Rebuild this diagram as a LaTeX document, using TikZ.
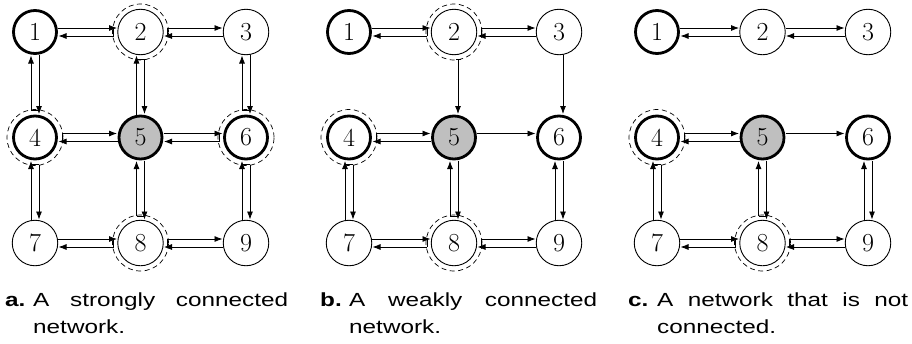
\documentclass[tikz,border=0pt]{standalone}
\usepackage{fontspec}
\newfontfamily\capfont[FakeStretch=1.28]{Liberation Sans}
\usetikzlibrary{calc,arrows.meta}

\tikzset{
  vtx/.style={circle, draw, line width=0.9pt, minimum size=45.5pt, inner sep=0pt,
              font=\fontsize{26}{26}\selectfont},
  hub/.style={vtx, line width=2.8pt, minimum size=43pt},
  core/.style={hub, fill=black!25},
  halo/.style={dash pattern=on 5pt off 3.5pt, line width=0.7pt},
  link/.style={line width=0.8pt, -{Latex[length=8pt,width=6pt]}},
  crossbar/.style={line width=0.8pt},
  captxt/.style={inner sep=0pt, anchor=base west, font=\capfont\fontsize{19}{23}\selectfont}
}

% arrow from #1 to #2, shifted 4pt to the left of its direction
\newcommand\plainlink[2]{%
  \path ($(#1)!4pt!90:(#2)$) coordinate (s) ($(#2)!4pt!-90:(#1)$) coordinate (t);
  \draw[link] ($(s)!23pt!(t)$) -- ($(t)!23.5pt!(s)$);}
% same, leaving a node with a dashed halo: starts at the halo, with a small cross bar
\newcommand\ringlink[2]{%
  \path ($(#1)!4pt!90:(#2)$) coordinate (s) ($(#2)!4pt!-90:(#1)$) coordinate (t)
        ($(s)!27pt!(t)$) coordinate (u);
  \draw[link] (u) -- ($(t)!23.5pt!(s)$);
  \draw[crossbar] (u) -- ($(u)!8pt!-90:(t)$);}
\newcommand\ringsingle[2]{%
  \path ($(#1)!4pt!90:(#2)$) coordinate (s) ($(#2)!4pt!-90:(#1)$) coordinate (t)
        ($(s)!27pt!(t)$) coordinate (u);
  \draw[link] (u) -- ($(t)!23.5pt!(s)$);
  \draw[crossbar] ($(u)!2.5pt!90:(t)$) -- ($(u)!2.5pt!-90:(t)$);}

\begin{document}
\begin{tikzpicture}[x=1pt,y=-1pt]
\useasboundingbox (0,0) rectangle (912,343);

% ---- (a) strongly connected ----
\node[hub]  (a1) at (35,32)     {1};
\node[vtx]  (a2) at (140.5,32)  {2};
\node[vtx]  (a3) at (246,32)    {3};
\node[hub]  (a4) at (35,137.5)  {4};
\node[core] (a5) at (140.5,137.5) {5};
\node[hub]  (a6) at (246,137.5) {6};
\node[vtx]  (a7) at (35,243)    {7};
\node[vtx]  (a8) at (140.5,243) {8};
\node[vtx]  (a9) at (246,243)   {9};
\foreach \n in {a2,a4,a6,a8} \draw[halo] (\n) circle[radius=28pt];

\plainlink{a1}{a2} \ringlink{a2}{a1}
\ringlink{a2}{a3}  \plainlink{a3}{a2}
\plainlink{a1}{a4} \ringlink{a4}{a1}
\ringlink{a2}{a5}  \plainlink{a5}{a2}
\plainlink{a3}{a6} \ringlink{a6}{a3}
\ringlink{a4}{a5}  \plainlink{a5}{a4}
\plainlink{a5}{a6} \ringlink{a6}{a5}
\ringlink{a4}{a7}  \plainlink{a7}{a4}
\plainlink{a5}{a8} \ringlink{a8}{a5}
\ringlink{a6}{a9}  \plainlink{a9}{a6}
\plainlink{a7}{a8} \ringlink{a8}{a7}
\ringlink{a8}{a9}  \plainlink{a9}{a8}

% ---- (b) weakly connected ----
\node[hub]  (b1) at (349,32)    {1};
\node[vtx]  (b2) at (454,32)    {2};
\node[vtx]  (b3) at (559,32)    {3};
\node[hub]  (b4) at (349,137.5) {4};
\node[core] (b5) at (454,137.5) {5};
\node[hub]  (b6) at (559,137.5) {6};
\node[vtx]  (b7) at (349,243)   {7};
\node[vtx]  (b8) at (454,243)   {8};
\node[vtx]  (b9) at (559,243)   {9};
\foreach \n in {b2,b4,b8} \draw[halo] (\n) circle[radius=28pt];

\plainlink{b1}{b2} \ringlink{b2}{b1}
\ringlink{b2}{b3}  \plainlink{b3}{b2}
\ringsingle{b2}{b5}
\plainlink{b3}{b6}
\ringlink{b4}{b5}  \plainlink{b5}{b4}
\plainlink{b5}{b6}
\ringlink{b4}{b7}  \plainlink{b7}{b4}
\plainlink{b5}{b8} \ringlink{b8}{b5}
\plainlink{b6}{b9} \plainlink{b9}{b6}
\plainlink{b7}{b8} \ringlink{b8}{b7}
\ringlink{b8}{b9}  \plainlink{b9}{b8}

% ---- (c) not connected ----
\node[hub]  (c1) at (657,32)      {1};
\node[vtx]  (c2) at (762.5,32)    {2};
\node[vtx]  (c3) at (868,32)      {3};
\node[hub]  (c4) at (657,137.5)   {4};
\node[core] (c5) at (762.5,137.5) {5};
\node[hub]  (c6) at (868,137.5)   {6};
\node[vtx]  (c7) at (657,243)     {7};
\node[vtx]  (c8) at (762.5,243)   {8};
\node[vtx]  (c9) at (868,243)     {9};
\foreach \n in {c4,c8} \draw[halo] (\n) circle[radius=28pt];

\plainlink{c1}{c2} \plainlink{c2}{c1}
\plainlink{c2}{c3} \plainlink{c3}{c2}
\ringlink{c4}{c5}  \plainlink{c5}{c4}
\plainlink{c5}{c6}
\ringlink{c4}{c7}  \plainlink{c7}{c4}
\plainlink{c5}{c8} \ringlink{c8}{c5}
\plainlink{c6}{c9} \plainlink{c9}{c6}
\plainlink{c7}{c8} \ringlink{c8}{c7}
\ringlink{c8}{c9}  \plainlink{c9}{c8}

% ---- captions ----
\node[captxt] (capa) at (5,306)
  {\hbox to 283pt{\hbox to 28pt{\bfseries a.\hfil}A\hfill strongly\hfill connected}};
\node[captxt] (capa2) at (33,333) {network.};
\node[captxt] (capb) at (320,306)
  {\hbox to 277pt{\hbox to 29pt{\bfseries b.\hfil}A\hfill weakly\hfill connected}};
\node[captxt] (capb2) at (349,333) {network.};
\node[captxt] (capc) at (628,306)
  {\hbox to 280pt{\hbox to 29pt{\bfseries c.\hfil}A\hfill network\hfill that\hfill is\hfill not}};
\node[captxt] (capc2) at (657,333) {connected.};
\end{tikzpicture}
\end{document}
